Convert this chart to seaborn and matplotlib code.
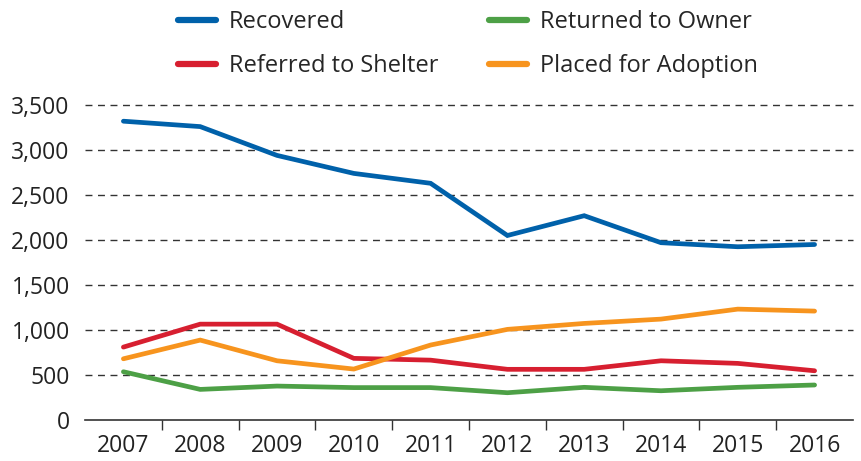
import pandas as pd
import matplotlib.pyplot as plt
import seaborn as sns

years = ["2007", "2008", "2009", "2010", "2011", "2012", "2013", "2014", "2015", "2016"]
recovered = [3320, 3260, 2940, 2740, 2630, 2050, 2270, 1970, 1925, 1950]
referred = [810, 1065, 1065, 685, 665, 563, 563, 658, 629, 547]
returned = [536, 340, 377, 360, 360, 303, 363, 325, 363, 389]
placed = [680, 888, 658, 566, 833, 1007, 1073, 1121, 1232, 1210]

series = ["Recovered", "Referred to Shelter", "Returned to Owner", "Placed for Adoption"]
colors = ["#0061AA", "#D71F30", "#4DA046", "#F7941E"]

df = pd.DataFrame({
    "year": years * 4,
    "count": recovered + referred + returned + placed,
    "series": sum([[s] * len(years) for s in series], []),
})

sns.set_theme(style="white")
plt.rcParams["font.family"] = ["Open Sans", "DejaVu Sans"]

fig = plt.figure(figsize=(8.62, 4.61), dpi=100)
ax = fig.add_axes([85 / 862, 1 - 420 / 461, 768 / 862, 315 / 461])

sns.lineplot(data=df, x="year", y="count", hue="series", hue_order=series,
             palette=colors, linewidth=3.4, ax=ax, sort=False,
             solid_capstyle="round", solid_joinstyle="miter")

ax.set_xlim(-0.5, 9.5)
ax.set_ylim(0, 3500)
ax.set_yticks(range(0, 3501, 500))
ax.set_yticklabels([f"{v:,}" for v in range(0, 3501, 500)])
for v in range(500, 3501, 500):
    ax.axhline(v, color="#333333", linewidth=1, linestyle=(0, (5, 4)), zorder=0, clip_on=False)

ax.set_xticks([i + 0.5 for i in range(9)], minor=True)
ax.tick_params(axis="x", which="minor", length=7, width=1, color="#333333", direction="out", bottom=True)
ax.tick_params(axis="x", which="major", length=0, pad=10, labelsize=16.5, labelcolor="#222222")
ax.tick_params(axis="y", length=0, pad=11, labelsize=16.5, labelcolor="#222222")

for side in ["top", "right", "left"]:
    ax.spines[side].set_visible(False)
ax.spines["bottom"].set_color("#333333")
ax.spines["bottom"].set_linewidth(1.2)
ax.set_xlabel("")
ax.set_ylabel("")
ax.grid(False)

handles, labels = ax.get_legend_handles_labels()
ax.legend_.remove()
for h in handles:
    h.set_linewidth(4.5)
    h.set_solid_capstyle("round")
fig.legend(handles, labels, loc="upper left", bbox_to_anchor=(178 / 862, 0.978),
           ncol=2, frameon=False, fontsize=17, handlelength=1.6, handletextpad=0.55,
           columnspacing=2.15, labelspacing=0.86, borderpad=0, borderaxespad=0)

fig.savefig("out.png", dpi=100)
